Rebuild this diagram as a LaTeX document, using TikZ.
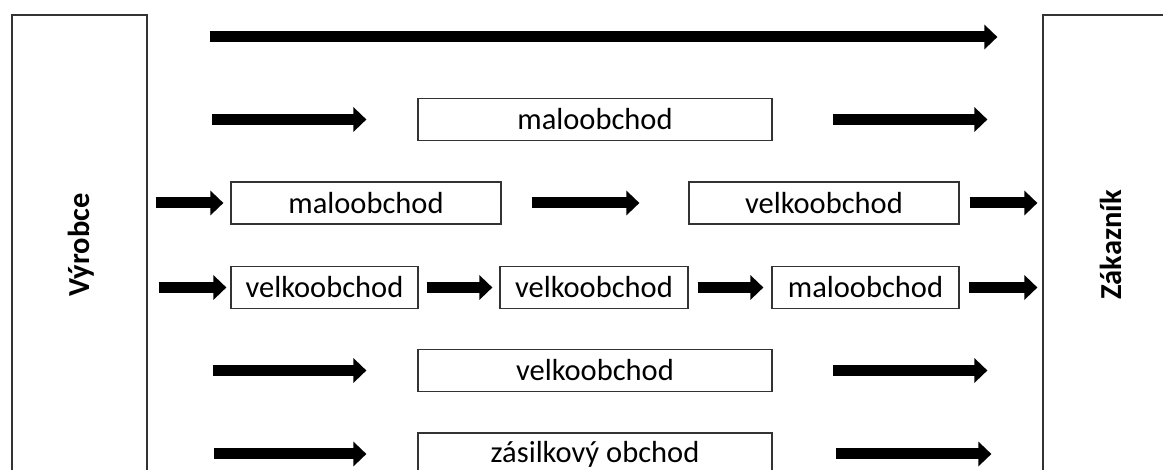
\documentclass[tikz,border=0pt]{standalone}
\usepackage{fontspec}
\setmainfont{Carlito}
\usetikzlibrary{arrows.meta}
\tikzset{
  shop/.style={draw=black!80, line width=1.2pt, minimum height=42pt,
    inner sep=0pt, font=\fontsize{30.5}{36}\selectfont},
  party/.style={draw=black!80, line width=1.2pt, minimum width=135pt,
    minimum height=460pt, inner sep=0pt},
  partytext/.style={rotate=90, font=\fontsize{30.5}{36}\selectfont\bfseries},
  flow/.style={line width=11pt, -{Triangle[length=13pt,width=24pt]}},
}
\begin{document}
\begin{tikzpicture}[x=1pt,y=-1pt]
    \useasboundingbox (0,0) rectangle (1163,470);
    % the two ends of the chain
    \node[party] (vyrobce) at (79.5,245) {};
    \node[partytext] (vyrobcetext) at (81,245) {Výrobce};
    \node[party] (zakaznik) at (1110.5,245) {};
    \node[partytext] (zakaznikatext) at (1111,245) {Zákazník};
    % direct
    \coordinate (r1) at (0,37);
    \draw[flow,shorten <=62pt,shorten >=45pt] (vyrobce.east |- r1) -- (zakaznik.west |- r1);
    % one step
    \node[shop,minimum width=354pt] (m2) at (595,119.5) {maloobchod};
    \draw[flow,shorten <=64pt,shorten >=51pt] (vyrobce.east |- m2.west) -- (m2.west);
    \draw[flow,shorten <=60pt,shorten >=55pt] (m2.east) -- (zakaznik.west |- m2.east);
    % two steps
    \node[shop,minimum width=270pt] (m3a) at (366,203) {maloobchod};
    \node[shop,minimum width=270pt] (v3b) at (824,203) {velkoobchod};
    \draw[flow,shorten <=8pt,shorten >=7pt] (vyrobce.east |- m3a.west) -- (m3a.west);
    \draw[flow,shorten <=30pt,shorten >=49pt] (m3a.east) -- (v3b.west);
    \draw[flow,shorten <=10pt,shorten >=5pt] (v3b.east) -- (zakaznik.west |- v3b.east);
    % three steps
    \node[shop,minimum width=187pt] (v4a) at (324.5,287.5) {velkoobchod};
    \node[shop,minimum width=188pt] (v4b) at (594,287.5) {velkoobchod};
    \node[shop,minimum width=187pt] (m4c) at (865.5,287.5) {maloobchod};
    \draw[flow,shorten <=11pt,shorten >=4pt] (vyrobce.east |- v4a.west) -- (v4a.west);
    \draw[flow,shorten <=8pt,shorten >=7pt] (v4a.east) -- (v4b.west);
    \draw[flow,shorten <=9pt,shorten >=8pt] (v4b.east) -- (m4c.west);
    \draw[flow,shorten <=9pt,shorten >=5pt] (m4c.east) -- (zakaznik.west |- m4c.east);
    % wholesale only
    \node[shop,minimum width=354pt] (v5) at (595,370.5) {velkoobchod};
    \draw[flow,shorten <=65pt,shorten >=51pt] (vyrobce.east |- v5.west) -- (v5.west);
    \draw[flow,shorten <=60pt,shorten >=55pt] (v5.east) -- (zakaznik.west |- v5.east);
    % mail order
    \node[shop,minimum width=354pt] (z6) at (595,454) {zásilkový obchod};
    \draw[flow,shorten <=66pt,shorten >=51pt] (vyrobce.east |- z6.west) -- (z6.west);
    \draw[flow,shorten <=63pt,shorten >=51pt] (z6.east) -- (zakaznik.west |- z6.east);
\end{tikzpicture}
\end{document}
